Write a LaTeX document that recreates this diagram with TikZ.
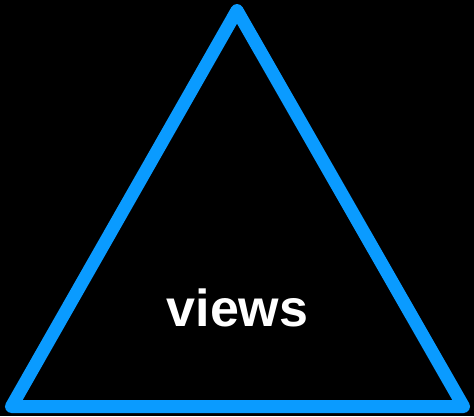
\documentclass[tikz,border=0pt]{standalone}
\usepackage{fontspec}
\setmainfont{Liberation Sans}
\definecolor{triblue}{HTML}{0A9BFF}
\begin{document}
\begin{tikzpicture}[x=1pt,y=-1pt,
  tri/.style={draw=triblue,line width=13pt,line join=round},
  lbl/.style={text=white,font=\fontsize{52}{62}\selectfont\bfseries,inner sep=0pt,anchor=base}]
\fill[black] (0,0) rectangle (474,416);
\useasboundingbox (0,0) rectangle (474,416);
\coordinate (apex) at (237,10.5);
\coordinate (bl) at (11.5,406.5);
\coordinate (br) at (463.5,406.5);
\draw[tri] (apex) -- (bl) -- (br) -- cycle;
\node[lbl] (views) at (237.5,326) {views};
\end{tikzpicture}
\end{document}
